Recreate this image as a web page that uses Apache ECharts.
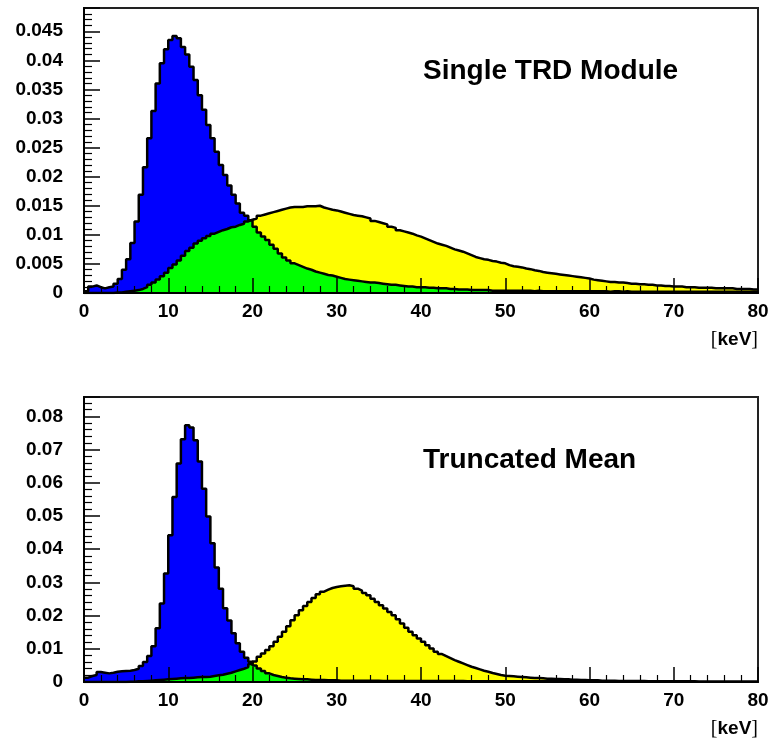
<!DOCTYPE html>
<html><head><meta charset="utf-8">
<script src="https://cdn.jsdelivr.net/npm/echarts@6/dist/echarts.min.js"></script>
<style>html,body{margin:0;padding:0;background:#fff}#c{width:772px;height:740px}</style>
</head><body><div id="c"></div>
<script>
// ---- data: histograms with 0.5 keV bins from 0 to 80 keV ----
const BIN_WIDTH = 0.5;
const X_MIN = 0, X_MAX = 80;
const xTickLabels = [0, 10, 20, 30, 40, 50, 60, 70, 80];
const topTitle = 'Single TRD Module';
const bottomTitle = 'Truncated Mean';
const unitLabel = 'keV';

const topBlue = [
0.0003,0.0011,0.0013,0.0010,0.0008,0.0010,0.0011,0.0016,0.0024,0.0040,
0.0058,0.0086,0.0123,0.0169,0.0216,0.0266,0.0313,0.0360,0.0395,0.0419,
0.0435,0.0442,0.0438,0.0423,0.0410,0.0389,0.0366,0.0340,0.0315,0.0289,
0.0266,0.0243,0.0220,0.0203,0.0185,0.0169,0.0154,0.0138,0.0133,0.0125,
0.0114,0.0104,0.0097,0.0091,0.0083,0.0076,0.0068,0.0061,0.0056,0.0051,
0.0048,0.0045,0.0042,0.0040,0.0037,0.0035,0.0033,0.0031,0.0030,0.0028,
0.0026,0.0024,0.0023,0.0022,0.0021,0.0020,0.0019,0.0018,0.0018,0.0017,
0.0016,0.0015,0.0014,0.0014,0.0013,0.0012,0.0011,0.0011,0.0010,0.0010,
0.0010,0.0009,0.0009,0.0008,0.0008,0.0008,0.0007,0.0007,0.0006,0.0006,
0.0006,0.0005,0.0005,0.0005,0.0005,0.0005,0.0004,0.0004,0.0004,0.0004,
0.0004,0.0004,0.0004,0.0004,0.0004,0.0004,0.0003,0.0004,0.0003,0.0003,
0.0003,0.0003,0.0003,0.0003,0.0003,0.0003,0.0003,0.0003,0.0003,0.0003,
0.0003,0.0003,0.0003,0.0003,0.0002,0.0003,0.0003,0.0002,0.0003,0.0002,
0.0002,0.0002,0.0002,0.0002,0.0002,0.0002,0.0002,0.0002,0.0002,0.0002,
0.0002,0.0002,0.0002,0.0002,0.0002,0.0002,0.0002,0.0002,0.0002,0.0002,
0.0002,0.0002,0.0002,0.0002,0.0002,0.0002,0.0002,0.0002,0.0002,0.0002
];
const topYellow = [
0,0,0,0,0,0,0,0.0001,0.0001,0.0002,
0.0003,0.0004,0.0005,0.0007,0.0010,0.0014,0.0018,0.0023,0.0029,0.0035,
0.0043,0.0049,0.0056,0.0064,0.0072,0.0078,0.0085,0.0090,0.0094,0.0098,
0.0102,0.0105,0.0108,0.0110,0.0113,0.0114,0.0117,0.0119,0.0123,0.0126,
0.0128,0.0133,0.0135,0.0137,0.0139,0.0141,0.0143,0.0145,0.0147,0.0148,
0.0148,0.0148,0.0149,0.0149,0.0149,0.0150,0.0147,0.0145,0.0143,0.0142,
0.0140,0.0138,0.0136,0.0134,0.0133,0.0132,0.0130,0.0128,0.0124,0.0122,
0.0120,0.0118,0.0114,0.0112,0.0108,0.0106,0.0104,0.0102,0.0099,0.0097,
0.0094,0.0091,0.0088,0.0085,0.0083,0.0081,0.0078,0.0075,0.0073,0.0071,
0.0068,0.0065,0.0062,0.0060,0.0058,0.0057,0.0055,0.0054,0.0052,0.0051,
0.0048,0.0046,0.0045,0.0044,0.0042,0.0041,0.0039,0.0038,0.0036,0.0035,
0.0034,0.0033,0.0032,0.0031,0.0030,0.0029,0.0028,0.0027,0.0026,0.0025,
0.0023,0.0022,0.0021,0.0020,0.0019,0.0019,0.0018,0.0018,0.0017,0.0016,
0.0016,0.0015,0.0015,0.0014,0.0014,0.0013,0.0013,0.0012,0.0012,0.0011,
0.0011,0.0011,0.0010,0.0010,0.0010,0.0009,0.0009,0.0009,0.0009,0.0008,
0.0008,0.0008,0.0008,0.0008,0.0007,0.0007,0.0007,0.0007,0.0006,0.0006
];
const bottomBlue = [
0.0013,0.0018,0.0021,0.0030,0.0028,0.0026,0.0028,0.0031,0.0032,0.0033,
0.0034,0.0036,0.0040,0.0048,0.0060,0.0078,0.0108,0.0162,0.0236,0.0327,
0.0442,0.0557,0.0658,0.0731,0.0773,0.0766,0.0728,0.0664,0.0582,0.0498,
0.0418,0.0345,0.0281,0.0222,0.0185,0.0147,0.0117,0.0091,0.0073,0.0061,
0.0050,0.0041,0.0033,0.0026,0.0021,0.0018,0.0015,0.0013,0.0011,0.0010,
0.0009,0.0008,0.0008,0.0007,0.0006,0.0006,0.0006,0.0005,0.0005,0.0005,
0.0004,0.0004,0.0004,0.0004,0.0004,0.0004,0.0004,0.0004,0.0004,0.0004,
0.0003,0.0003,0.0003,0.0003,0.0003,0.0003,0.0003,0.0003,0.0003,0.0003,
0.0003,0.0003,0.0003,0.0003,0.0003,0.0003,0.0003,0.0003,0.0003,0.0003,
0.0002,0.0002,0.0002,0.0002,0.0002,0.0002,0.0002,0.0002,0.0002,0.0002,
0.0002,0.0002,0.0002,0.0002,0.0002,0.0002,0.0002,0.0002,0.0002,0.0002,
0.0002,0.0002,0.0002,0.0002,0.0002,0.0002,0.0002,0.0002,0.0002,0.0002,
0.0001,0.0001,0.0001,0.0001,0.0001,0.0001,0.0001,0.0001,0.0001,0.0001,
0.0001,0.0001,0.0001,0.0001,0.0001,0.0001,0.0001,0.0001,0.0001,0.0001,
0.0001,0.0001,0.0001,0.0001,0.0001,0.0001,0.0001,0.0001,0.0001,0.0001,
0.0001,0.0001,0.0001,0.0001,0.0001,0.0001,0.0001,0.0001,0.0001,0.0001
];
const bottomYellow = [
0,0,0,0,0,0,0,0,0,0,
0.0001,0.0001,0.0002,0.0002,0.0003,0.0004,0.0005,0.0006,0.0007,0.0008,
0.0009,0.0010,0.0011,0.0012,0.0012,0.0013,0.0014,0.0015,0.0015,0.0016,
0.0018,0.0020,0.0022,0.0025,0.0028,0.0032,0.0036,0.0040,0.0045,0.0054,
0.0062,0.0076,0.0086,0.0096,0.0108,0.0121,0.0136,0.0151,0.0168,0.0186,
0.0201,0.0216,0.0229,0.0241,0.0253,0.0264,0.0272,0.0278,0.0283,0.0286,
0.0288,0.0290,0.0291,0.0288,0.0281,0.0275,0.0268,0.0261,0.0251,0.0241,
0.0231,0.0221,0.0211,0.0201,0.0189,0.0176,0.0163,0.0151,0.0141,0.0131,
0.0121,0.0111,0.0101,0.0091,0.0084,0.0078,0.0072,0.0066,0.0061,0.0056,
0.0051,0.0046,0.0042,0.0038,0.0034,0.0031,0.0027,0.0024,0.0021,0.0019,
0.0018,0.0017,0.0016,0.0015,0.0014,0.0013,0.0012,0.0012,0.0011,0.0010,
0.0010,0.0009,0.0009,0.0008,0.0008,0.0007,0.0007,0.0006,0.0006,0.0005,
0.0005,0.0005,0.0004,0.0004,0.0004,0.0004,0.0003,0.0003,0.0003,0.0003,
0.0003,0.0003,0.0003,0.0002,0.0002,0.0002,0.0002,0.0002,0.0002,0.0002,
0.0002,0.0002,0.0002,0.0002,0.0002,0.0001,0.0001,0.0001,0.0001,0.0001,
0.0001,0.0001,0.0001,0.0001,0.0001,0.0001,0.0001,0.0001,0.0001,0.0001
];

// ---- chart ----
const FONT = '"Liberation Sans", Arial, Helvetica, sans-serif';
const chart = echarts.init(document.getElementById('c'), null, {renderer: 'canvas'});

function steps(vals) {
  const pts = vals.map((v, i) => [X_MIN + i * BIN_WIDTH, v]);
  pts.push([X_MAX, vals[vals.length - 1]]);
  return pts;
}
function overlap(a, b) { return a.map((v, i) => Math.min(v, b[i])); }

function panelSeries(blue, yellow, idx) {
  const base = {type: 'line', step: 'end', symbol: 'none', showSymbol: false, silent: true,
                xAxisIndex: idx, yAxisIndex: idx, animation: false};
  return [
    Object.assign({}, base, {data: steps(blue), lineStyle: {width: 0}, areaStyle: {color: '#0000ff', opacity: 1}, z: 2}),
    Object.assign({}, base, {data: steps(yellow), lineStyle: {width: 0}, areaStyle: {color: '#ffff00', opacity: 1}, z: 3}),
    Object.assign({}, base, {data: steps(overlap(blue, yellow)), lineStyle: {width: 0}, areaStyle: {color: '#00ff00', opacity: 1}, z: 4}),
    Object.assign({}, base, {data: steps(blue), lineStyle: {color: '#000', width: 2.5}, z: 5}),
    Object.assign({}, base, {data: steps(yellow), lineStyle: {color: '#000', width: 2.5}, z: 5})
  ];
}

function xAxisCfg(idx) {
  return {
    type: 'value', gridIndex: idx, min: xTickLabels[0], max: xTickLabels[xTickLabels.length - 1],
    interval: xTickLabels[1] - xTickLabels[0], z: 10,
    axisLine: {show: true, lineStyle: {color: '#000', width: 2}},
    axisTick: {show: true, inside: true, length: 15, lineStyle: {color: '#000', width: 1.5}},
    minorTick: {show: true, splitNumber: 5, length: 7, lineStyle: {color: '#000', width: 1.2}},
    splitLine: {show: false},
    axisLabel: {margin: 9, color: '#000', fontFamily: FONT, fontWeight: 'bold', fontSize: 19},
    name: '{br|[}{b|' + unitLabel + '}{br|]}', nameLocation: 'end', nameGap: 0,
    nameTextStyle: {align: 'right', verticalAlign: 'top', padding: [37, 0, 0, 0],
      rich: {
        br: {fontFamily: '"Liberation Serif", "DejaVu Serif", serif', fontSize: 20, color: '#000', fontWeight: 'normal'},
        b: {fontFamily: FONT, fontSize: 19, fontWeight: 'bold', color: '#000'}
      }}
  };
}
function yAxisCfg(idx, max, interval, digits) {
  return {
    type: 'value', gridIndex: idx, min: 0, max: max, interval: interval, z: 10,
    axisLine: {show: true, lineStyle: {color: '#000', width: 2}},
    axisTick: {show: true, inside: true, length: 16, lineStyle: {color: '#000', width: 1.5}},
    minorTick: {show: true, splitNumber: 5, length: 8, lineStyle: {color: '#000', width: 1.2}},
    splitLine: {show: false},
    axisLabel: {margin: 21, color: '#000', fontFamily: FONT, fontWeight: 'bold', fontSize: 19,
      formatter: function (v) {
        const k = v / interval;
        if (Math.abs(k - Math.round(k)) > 1e-6) return '';
        return String(parseFloat(v.toFixed(digits)));
      }}
  };
}

const option = {
  animation: false,
  backgroundColor: '#fff',
  grid: [
    {left: 84, width: 674, top: 8, height: 285, show: true, borderColor: '#222', borderWidth: 2, backgroundColor: '#fff'},
    {left: 84, width: 674, top: 397, height: 285, show: true, borderColor: '#222', borderWidth: 2, backgroundColor: '#fff'}
  ],
  xAxis: [xAxisCfg(0), xAxisCfg(1)],
  yAxis: [yAxisCfg(0, 0.049, 0.005, 3), yAxisCfg(1, 0.0858, 0.01, 2)],
  graphic: [
    {type: 'text', left: 423, top: 57, z: 20, style: {text: topTitle, font: 'bold 28px ' + FONT, fill: '#000'}},
    {type: 'text', left: 423, top: 446, z: 20, style: {text: bottomTitle, font: 'bold 28px ' + FONT, fill: '#000'}}
  ],
  series: panelSeries(topBlue, topYellow, 0).concat(panelSeries(bottomBlue, bottomYellow, 1))
};
chart.setOption(option);
</script>
</body></html>
